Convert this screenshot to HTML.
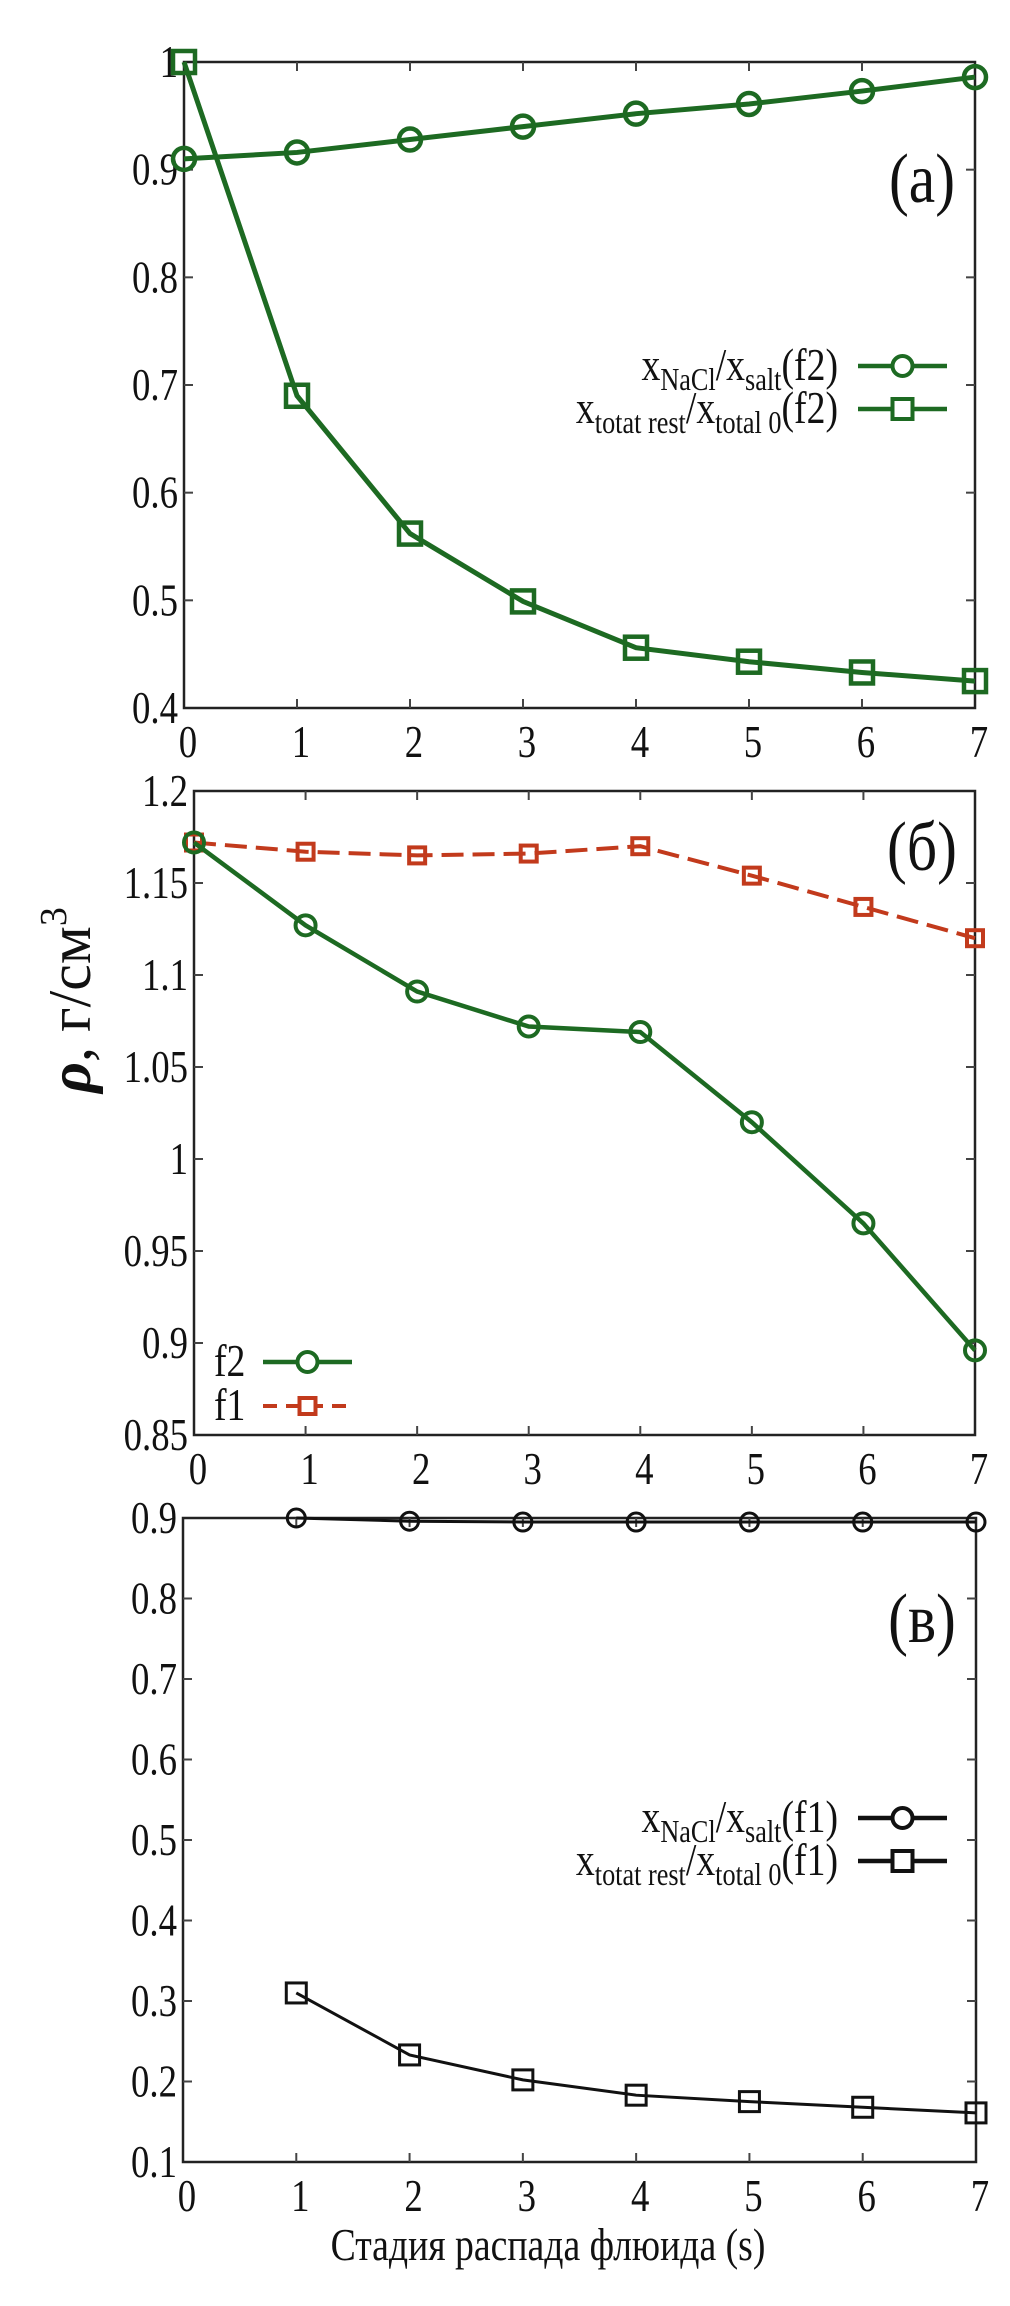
<!DOCTYPE html>
<html><head><meta charset="utf-8"><style>
html,body{margin:0;padding:0;background:#fff;}
svg{display:block;font-family:"Liberation Serif",serif;}
</style></head><body>
<svg id="fig" width="1010" height="2306" viewBox="0 0 1010 2306" xmlns="http://www.w3.org/2000/svg"></svg>
<script>
const xCats = [0,1,2,3,4,5,6,7];
const aCircleVals = [0.91,0.916,0.928,0.94,0.952,0.961,0.973,0.986];
const aSquareVals = [1.0,0.69,0.562,0.499,0.456,0.443,0.433,0.425];
const aTicks = [0.4,0.5,0.6,0.7,0.8,0.9,1];
const aTickLabels = ["0.4","0.5","0.6","0.7","0.8","0.9","1"];
const bF2Vals = [1.172,1.127,1.091,1.072,1.069,1.02,0.965,0.896];
const bF1Vals = [1.172,1.167,1.165,1.166,1.17,1.154,1.137,1.12];
const bTicks = [0.85,0.9,0.95,1,1.05,1.1,1.15,1.2];
const bTickLabels = ["0.85","0.9","0.95","1","1.05","1.1","1.15","1.2"];
const cXCats = [1,2,3,4,5,6,7];
const cCircleVals = [0.9,0.896,0.895,0.895,0.895,0.895,0.895];
const cSquareVals = [0.31,0.233,0.202,0.183,0.175,0.168,0.161];
const cTicks = [0.1,0.2,0.3,0.4,0.5,0.6,0.7,0.8,0.9];
const cTickLabels = ["0.1","0.2","0.3","0.4","0.5","0.6","0.7","0.8","0.9"];

const NS="http://www.w3.org/2000/svg";
const svg=document.getElementById('fig');
function mk(tag,attrs,parent){const e=document.createElementNS(NS,tag);for(const k in attrs)e.setAttribute(k,attrs[k]);(parent||svg).appendChild(e);return e;}
function ctext(parent,x,y,size,anchor,sx){return mk('text',{x:0,y:0,'text-anchor':anchor,'font-size':size,fill:'#111',transform:'translate('+x+','+y+') scale('+sx+',1)'},parent);}
const GREEN="#1d6a22", RED="#c23a1c", BLACK="#111";

function panel(name,x0,x1,y0,y1,ymin,ymax,ticks,labels){
  const g=mk('g',{});
  
  
  const sx=v=>x0+(v-0)/7*(x1-x0);
  const sy=v=>y1-(v-ymin)/(ymax-ymin)*(y1-y0);
  const fr=mk('rect',{x:x0,y:y0,width:x1-x0,height:y1-y0,fill:'none',stroke:'#222','stroke-width':2.5},g);
  
  
  ticks.forEach((t,i)=>{
    const y=sy(t);
    if(i>0&&i<ticks.length-1){
      mk('line',{x1:x0,x2:x0+9,y1:y,y2:y,stroke:'#444','stroke-width':2},g);
      mk('line',{x1:x1-9,x2:x1,y1:y,y2:y,stroke:'#444','stroke-width':2},g);
    }
    const tl=ctext(g,x0-6,y+15,46,'end',0.8);
    tl.textContent=labels[i];
    
    
  });
  xCats.forEach(c=>{
    const x=sx(c);
    if(c>0&&c<7){
      mk('line',{x1:x,x2:x,y1:y1,y2:y1-9,stroke:'#444','stroke-width':2},g);
      mk('line',{x1:x,x2:x,y1:y0,y2:y0+9,stroke:'#444','stroke-width':2},g);
    }
    const tl=ctext(g,x+4,y1+49,46,'middle',0.8);
    tl.textContent=String(c);
    
    
  });
  return {g,sx,sy};
}
function series(p,name,xs,vals,color,marker,opts){
  const pts=xs.map((c,i)=>[p.sx(c),p.sy(vals[i])]);
  const pl=mk('polyline',{points:pts.map(q=>q.join(',')).join(' '),fill:'none',stroke:color,'stroke-width':opts.lw,'stroke-dasharray':opts.dash||'none'},p.g);
  
  
  pts.forEach(q=>{
    let m;
    if(marker==='circle') m=mk('circle',{cx:q[0],cy:q[1],r:opts.ms,fill:'none',stroke:color,'stroke-width':opts.mw},p.g);
    else m=mk('rect',{x:q[0]-opts.ms,y:q[1]-opts.ms,width:2*opts.ms,height:2*opts.ms,fill:'none',stroke:color,'stroke-width':opts.mw},p.g);
    
    
  });
}
function legendEntry(parent,x1,x2,y,color,marker,opts){
  mk('line',{x1:x1,x2:x2,y1:y,y2:y,stroke:color,'stroke-width':opts.lw,'stroke-dasharray':opts.dash||'none'},parent);
  const cx=(x1+x2)/2;
  if(marker==='circle') mk('circle',{cx:cx,cy:y,r:opts.ms,fill:'#fff',stroke:color,'stroke-width':opts.mw},parent);
  else mk('rect',{x:cx-opts.ms,y:y-opts.ms,width:2*opts.ms,height:2*opts.ms,fill:'#fff',stroke:color,'stroke-width':opts.mw},parent);
}
function ratioLegend(parent,ytop,color,tag){
  const l1=mk('g',{},parent);
  
  
  const t1=ctext(l1,838,ytop+14,46,'end',0.82);
  t1.innerHTML='x<tspan font-size="32" dy="10">NaCl</tspan><tspan dy="-10">/x</tspan><tspan font-size="32" dy="10">salt</tspan><tspan dy="-10">('+tag+')</tspan>';
  legendEntry(l1,858,947,ytop,color,'circle',{lw:4.5,ms:10,mw:4});
  const l2=mk('g',{},parent);
  
  
  const t2=ctext(l2,838,ytop+57,46,'end',0.82);
  t2.innerHTML='x<tspan font-size="32" dy="10">totat rest</tspan><tspan dy="-10">/x</tspan><tspan font-size="32" dy="10">total 0</tspan><tspan dy="-10">('+tag+')</tspan>';
  legendEntry(l2,858,947,ytop+43,color,'square',{lw:4.5,ms:10,mw:4});
}

// Panel (a)
const pa=panel('panel-a',184,975,62,708,0.4,1.0,aTicks,aTickLabels);
series(pa,'a-nacl-ratio',xCats,aCircleVals,GREEN,'circle',{lw:5,ms:11,mw:4.5});
series(pa,'a-total-ratio',xCats,aSquareVals,GREEN,'square',{lw:5,ms:11,mw:4.5});
ratioLegend(pa.g,366,GREEN,'f2');
const la=ctext(pa.g,922,202,70,'middle',0.85);
la.textContent='(a)';

// Panel (б)
const pb=panel('panel-b',194,975,791,1435,0.85,1.2,bTicks,bTickLabels);
series(pb,'b-f1-density',xCats,bF1Vals,RED,'square',{lw:4,ms:8,mw:4,dash:'22,9'});
series(pb,'b-f2-density',xCats,bF2Vals,GREEN,'circle',{lw:4.5,ms:10,mw:4});
const lb=ctext(pb.g,922,870,70,'middle',0.85);
lb.textContent='(б)';
const lgb=mk('g',{},pb.g);


const tf2=ctext(lgb,214,1376,46,'start',0.82);tf2.textContent='f2';
legendEntry(lgb,263,352,1362,GREEN,'circle',{lw:4.5,ms:10,mw:4});
const tf1=ctext(lgb,214,1420,46,'start',0.82);tf1.textContent='f1';
legendEntry(lgb,263,352,1406,RED,'square',{lw:4,ms:8,mw:4,dash:'14,9'});
const yl=mk('text',{x:0,y:0,'font-size':60,fill:'#111','text-anchor':'middle',transform:'translate(90,1000) rotate(-90)'},svg);
yl.innerHTML='<tspan font-style="italic" font-weight="bold">ρ</tspan>, г/см<tspan font-size="38" dy="-24">3</tspan>';


// Panel (в)
const pc=panel('panel-c',183,976,1518,2162,0.1,0.9,cTicks,cTickLabels);
series(pc,'c-nacl-ratio',cXCats,cCircleVals,BLACK,'circle',{lw:3,ms:9,mw:3});
series(pc,'c-total-ratio',cXCats,cSquareVals,BLACK,'square',{lw:3,ms:10,mw:3});
ratioLegend(pc.g,1818,BLACK,'f1');
const lc=ctext(pc.g,922,1642,70,'middle',0.85);
lc.textContent='(в)';
const xt=ctext(svg,548,2260,46,'middle',0.82);
xt.textContent='Стадия распада флюида (s)';

</script>
</body></html>
